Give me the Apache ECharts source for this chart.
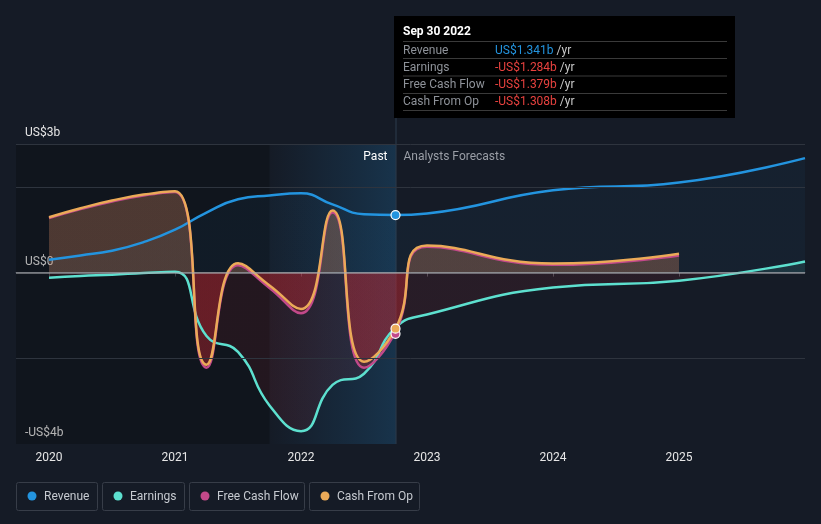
<!DOCTYPE html>
<html>
<head>
<meta charset="utf-8">
<script src="https://cdn.jsdelivr.net/npm/echarts@6/dist/echarts.min.js"></script>
<style>
html,body{margin:0;padding:0;background:#151b26;}
#chart{width:821px;height:524px;}
</style>
</head>
<body>
<div id="chart"></div>
<script>
// ---- data (US$ billions) ----
const pastX = [2020, 2020.25, 2020.5, 2020.75, 2021, 2021.25, 2021.5, 2021.75, 2022, 2022.25, 2022.5, 2022.75];
const forecastX = [2023, 2024, 2025, 2026];
const revenuePast = [0.30, 0.40, 0.51, 0.71, 1.00, 1.40, 1.71, 1.80, 1.85, 1.59, 1.36, 1.341];
const earningsPast = [-0.12, -0.08, -0.05, -0.01, 0.02, -1.48, -1.85, -3.10, -3.70, -2.62, -2.36, -1.284];
const fcfPast = [1.27, 1.48, 1.66, 1.80, 1.88, -2.22, 0.17, -0.36, -0.95, 1.40, -2.22, -1.379];
const cfoPast = [1.29, 1.50, 1.68, 1.82, 1.90, -2.15, 0.22, -0.30, -0.85, 1.45, -2.08, -1.308];
const revenueForecast = [1.38, 1.92, 2.10, 2.67];
const earningsForecast = [-0.98, -0.35, -0.19, 0.26];
const fcfForecast = [0.60, 0.18, 0.40];
const cfoForecast = [0.63, 0.21, 0.44];
const yearTicks = [2020, 2021, 2022, 2023, 2024, 2025];
const yLabelValues = [3, 0, -4];
const gridValues = [3, 2, -2];
const seriesNames = ['Revenue', 'Earnings', 'Free Cash Flow', 'Cash From Op'];
const tooltipDate = 'Sep 30 2022';
const pastStart = 2021.75;

const xMin = 2019.738, xMax = 2026, yMin = -4, yMax = 3;
const colors = ['#2394df', '#5de0cf', '#c2498a', '#ebaa58'];
const posFill = ['rgba(35,148,223,0.07)', 'rgba(93,224,207,0.15)', 'rgba(194,73,138,0.15)', 'rgba(235,170,88,0.30)'];
const negFill = ['rgba(35,148,223,0.07)', 'rgba(200,40,50,0.15)', 'rgba(205,40,50,0.32)', 'rgba(205,40,50,0.32)'];

const gridTop = 144, gridBottom = 80, H = 524;
const zeroFrac = yMax / (yMax - yMin);

function pairs(xs, ys) { return ys.map((v, i) => [xs[i], v]); }
function joined(p, f) { return pairs(pastX, p).concat(pairs(forecastX, f)); }
function fill(i) {
  return {
    type: 'linear', x: 0, y: gridTop, x2: 0, y2: H - gridBottom, global: true,
    colorStops: [
      { offset: 0, color: posFill[i] }, { offset: zeroFrac, color: posFill[i] },
      { offset: zeroFrac, color: negFill[i] }, { offset: 1, color: negFill[i] }
    ]
  };
}
const lastIdx = pastX.length - 1;
const dataSets = [
  joined(revenuePast, revenueForecast),
  joined(earningsPast, earningsForecast),
  joined(fcfPast, fcfForecast),
  joined(cfoPast, cfoForecast)
];
const pastValues = [revenuePast, earningsPast, fcfPast, cfoPast];

const font = 'Roboto, "Noto Sans", sans-serif';
const chart = echarts.init(document.getElementById('chart'), null, { renderer: 'canvas' });

const lineSeries = seriesNames.map((n, i) => ({
  name: n, type: 'line', data: dataSets[i], smooth: 0.5, showSymbol: false,
  lineStyle: { color: colors[i], width: 2.5 }, itemStyle: { color: colors[i] },
  areaStyle: { color: fill(i), origin: 0 }, z: 3,
  markPoint: i === 1 ? undefined : {
    symbol: 'circle', symbolSize: 9, silent: true, label: { show: false },
    itemStyle: { color: colors[i], borderColor: '#ffffff', borderWidth: 1.2 },
    data: [{ coord: [pastX[lastIdx], pastValues[i][lastIdx] - (i === 2 ? 0.05 : 0)] }]
  }
}));

chart.setOption({
  backgroundColor: '#151b26',
  animation: false,
  textStyle: { fontFamily: font },
  grid: { left: 16, right: 16, top: gridTop, bottom: gridBottom, containLabel: false },
  xAxis: {
    type: 'value', min: xMin, max: xMax,
    axisLine: { show: true, lineStyle: { color: '#4b505a', width: 1 } },
    axisTick: { show: true, customValues: yearTicks, length: 4, lineStyle: { color: '#4b505a' } },
    axisLabel: { customValues: yearTicks, formatter: v => String(Math.round(v)), color: '#e6e6e6', fontSize: 12, margin: 8, fontFamily: font },
    splitLine: { show: false }
  },
  yAxis: {
    type: 'value', min: yMin, max: yMax,
    axisLine: { show: false }, axisTick: { show: false }, splitLine: { show: false },
    axisLabel: {
      inside: true, customValues: yLabelValues, color: '#e6e6e6', fontSize: 12, fontFamily: font,
      verticalAlign: 'bottom', margin: 9, padding: [0, 0, 5, 0],
      formatter: v => (v < 0 ? '-US$' + Math.abs(v) + 'b' : (v === 0 ? 'US$0' : 'US$' + v + 'b'))
    }
  },
  series: [
    {
      type: 'line', data: [], silent: true, z: 1,
      markArea: {
        silent: true,
        data: [
          [{ xAxis: xMin, itemStyle: { color: 'rgba(0,0,0,0.22)' } }, { xAxis: pastStart }],
          [{ xAxis: pastStart, itemStyle: { color: { type: 'linear', x: 0, y: 0, x2: 1, y2: 0, colorStops: [{ offset: 0, color: 'rgba(35,148,223,0.0)' }, { offset: 1, color: 'rgba(35,148,223,0.2)' }] } } }, { xAxis: pastX[lastIdx] }]
        ]
      },
      markLine: {
        silent: true, symbol: 'none', label: { show: false },
        lineStyle: { color: '#2e343e', width: 1, type: 'solid' },
        data: gridValues.map(v => ({ yAxis: v }))
      }
    }
  ].concat(lineSeries).concat([
    {
      type: 'line', data: [], silent: true, z: 6,
      markLine: {
        silent: true, symbol: 'none', label: { show: false },
        lineStyle: { color: 'rgba(170,172,178,0.75)', width: 1.5, type: 'solid' },
        data: [{ yAxis: 0 }]
      }
    }
  ])
});

// overlays: crosshair, labels, tooltip, legend
const xNow = chart.convertToPixel({ xAxisIndex: 0 }, pastX[lastIdx]);
const yBottom = H - gridBottom;
function fmt(v) { return (v < 0 ? '-US$' : 'US$') + Math.abs(v).toFixed(3) + 'b'; }
const tipX = 394, tipY = 16, tipW = 341, tipH = 102;
const tipChildren = [
  { type: 'rect', shape: { x: tipX, y: tipY, width: tipW, height: tipH }, style: { fill: '#000000' } },
  { type: 'text', x: tipX + 9, y: 32, style: { text: tooltipDate, fill: '#ffffff', font: 'bold 12px ' + font, verticalAlign: 'middle' } }
];
const rowY = [50.5, 67.5, 85, 102];
const sepY = [41.5, 58.5, 76, 93.5, 110.5];
sepY.forEach(y => tipChildren.push({ type: 'line', shape: { x1: tipX + 9, y1: y, x2: tipX + 333, y2: y }, style: { stroke: '#3a3a3a', lineWidth: 1 } }));
seriesNames.forEach((n, i) => {
  const v = pastValues[i][lastIdx];
  tipChildren.push({ type: 'text', x: tipX + 9, y: rowY[i], style: { text: n, fill: '#8e9299', font: '12px ' + font, verticalAlign: 'middle' } });
  tipChildren.push({ type: 'text', x: tipX + 101, y: rowY[i], style: {
    text: '{v|' + fmt(v) + '} {u|/yr}', verticalAlign: 'middle', font: '12px ' + font,
    rich: { v: { fill: v < 0 ? '#e8423f' : '#2394df', font: '12px ' + font }, u: { fill: '#c9c9c9', font: '12px ' + font } }
  } });
});

const legendBoxes = [[16, 81], [102, 82], [189, 115], [309, 110]];
const legendChildren = [];
seriesNames.forEach((n, i) => {
  const [bx, bw] = legendBoxes[i];
  legendChildren.push({ type: 'rect', shape: { x: bx + 0.5, y: 482.5, width: bw, height: 28, r: 2 }, style: { fill: 'none', stroke: '#373d48', lineWidth: 1 } });
  legendChildren.push({ type: 'circle', shape: { cx: bx + 16, cy: 496, r: 4.5 }, style: { fill: colors[i] } });
  legendChildren.push({ type: 'text', x: bx + 28, y: 497, style: { text: n, fill: '#c6cad0', font: '12px ' + font, verticalAlign: 'middle' } });
});

chart.setOption({
  graphic: [
    { type: 'line', z: 2, silent: true, shape: { x1: xNow + 0.5, y1: tipY + tipH, x2: xNow + 0.5, y2: yBottom }, style: { stroke: 'rgba(90,120,150,0.35)', lineWidth: 1 } },
    { type: 'text', z: 10, x: xNow - 8, y: 157, style: { text: 'Past', fill: '#ffffff', font: '12px ' + font, align: 'right', verticalAlign: 'middle' } },
    { type: 'text', z: 10, x: xNow + 8, y: 157, style: { text: 'Analysts Forecasts', fill: '#9a9ea6', font: '12px ' + font, align: 'left', verticalAlign: 'middle' } },
    { type: 'group', z: 20, children: tipChildren },
    { type: 'group', z: 20, children: legendChildren }
  ]
});
</script>
</body>
</html>
